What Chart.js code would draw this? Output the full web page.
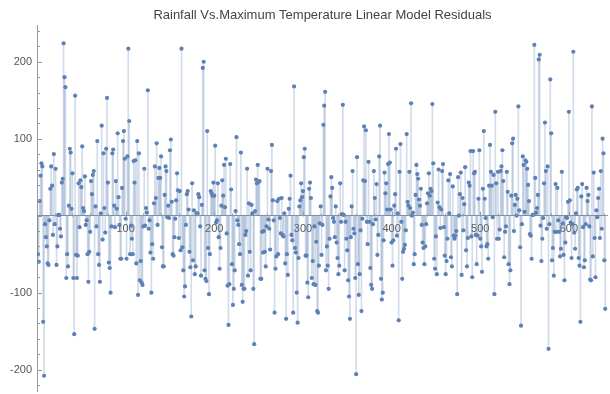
<!DOCTYPE html>
<html>
<head>
<meta charset="utf-8">
<script src="https://cdn.jsdelivr.net/npm/chart.js@4.4.1/dist/chart.umd.min.js"></script>
<style>
  html, body { margin: 0; padding: 0; background: #fff; }
  #wrap { width: 610px; height: 394px; }
</style>
</head>
<body>
<div id="wrap"><canvas id="residualChart"></canvas></div>
<script>
// ======================
// DATA
// ======================
const residuals = [
  -50,-60,19,52,68,64,-138,-208,-11,-28,-40,-62,-64,-6,35,64,39,-25,80,-11,61,-64,-40,1,1,-17,-27,43,48,224,180,167,-81,-50,-66,13,87,82,9,55,-81,-154,156,-51,-81,-52,42,-15,46,37,90,10,
  6,51,-12,-6,-50,-86,-47,-21,45,28,53,58,-147,12,-14,97,-50,-64,-86,3,117,-31,81,10,-22,87,153,43,-61,-68,-100,-14,81,86,13,-15,45,9,107,24,-12,-56,-56,36,97,110,74,-4,-56,77,217,123,-50,
  -13,-30,-50,71,43,72,-62,97,-103,81,-84,-59,-87,-90,-14,61,-13,10,4,163,-17,-6,-48,-100,-37,-56,16,64,23,94,-12,49,62,49,77,-41,-66,-66,27,64,58,-2,13,-3,85,99,18,-50,-52,-28,-4,20,55,33,
  -29,32,-45,217,-41,-71,-105,-92,-12,28,32,8,-47,-67,-131,42,-58,7,-76,-66,3,3,28,24,-14,-78,14,192,200,-71,-82,-85,110,-42,-102,-50,32,29,26,43,26,91,-9,-6,42,-28,-69,-42,13,46,26,66,11,74,
  -23,-91,-142,-89,67,34,-63,-116,-95,-71,6,102,-6,-12,-37,-50,82,-90,-112,-95,-95,-25,-20,61,-78,16,-47,-71,14,3,-95,-167,6,47,42,66,44,45,-82,-82,-21,-48,-20,-47,-66,-14,61,-5,-17,-44,58,92,20,-6,
  -126,-69,-53,19,-50,22,-3,-23,23,-25,-27,3,-62,-134,-50,-77,9,22,52,-25,-32,-126,168,-42,-48,-100,-139,-55,12,20,42,24,32,76,87,-52,-52,-87,-106,35,43,23,-81,-59,-89,-14,-90,-34,-124,-126,-65,-10,12,
  -51,-12,118,143,161,-71,-40,-65,-95,-30,25,50,36,-3,-8,-28,12,-35,-55,-76,-65,42,-8,2,144,1,-71,-8,-30,-45,-84,-105,-134,-28,12,58,-17,-23,-81,-206,76,-63,-103,-76,-19,-124,-4,46,116,45,111,-8,-37,70,
  -8,-68,-90,-95,-11,58,23,-5,41,-51,-25,77,117,-82,-109,-100,-32,56,29,42,8,67,106,69,8,-35,-65,-32,13,28,87,-26,3,-136,57,93,-8,-82,-47,-43,-38,-19,106,18,13,57,10,146,0,4,-63,-50,27,66,54,
  48,21,13,35,-12,-35,-42,-63,-40,-11,16,29,55,26,35,32,145,68,-56,-69,-27,-76,17,60,11,-16,8,58,67,-15,-52,-76,-59,-30,46,3,54,-54,-66,38,-26,-30,-26,-20,-102,50,0,28,56,-77,23,-19,15,63,
  -45,-66,-29,43,39,84,-27,-80,84,55,57,-25,-63,-26,22,85,-30,-40,-73,35,110,22,-3,-40,-37,-56,39,92,57,39,-2,53,-102,135,42,-30,57,-30,-18,58,64,85,45,-54,-21,-14,57,31,-63,-89,-71,26,94,100,
  -20,14,27,0,22,142,7,-41,-143,-11,77,66,5,72,70,61,40,19,-24,-26,-56,1,1,222,49,4,10,27,203,209,-13,-59,-30,-3,42,121,58,-17,64,-173,-11,177,107,-58,-42,-78,-21,41,-21,36,-6,-21,-53,-43,57,
  -10,-51,-84,-35,-2,-3,18,135,20,-9,-55,-11,213,-22,-43,3,34,36,-55,-65,-138,25,41,-15,-67,-58,-11,36,19,27,-14,-83,-84,142,-53,56,-29,-80,7,-2,23,35,-29,58,-17,100,81,-58,-121
];
const xTicks = [100, 200, 300, 400, 500, 600];
const yTicks = [-200, -100, 100, 200];

const points = residuals.map((v, i) => ({ x: i + 1, y: v }));

// ======================
// TICK MARKS (mathematica style, pointing inward)
// ======================
const tickMarks = {
  id: 'tickMarks',
  afterDraw(chart) {
    const { ctx, scales: { x, y } } = chart;
    const y0 = Math.round(y.getPixelForValue(0)) + 0.5;
    ctx.save();
    ctx.strokeStyle = '#999';
    ctx.lineWidth = 1;
    ctx.beginPath();
    for (let v = -220; v <= 240; v += 20) {
      const len = v % 100 === 0 ? 5 : 3;
      const py = Math.round(y.getPixelForValue(v)) + 0.5;
      ctx.moveTo(x.left, py); ctx.lineTo(x.left + len, py);
    }
    for (let v = 20; v <= 640; v += 20) {
      const len = v % 100 === 0 ? 5 : 3;
      const px = Math.round(x.getPixelForValue(v)) + 0.5;
      ctx.moveTo(px, y0); ctx.lineTo(px, y0 - len);
    }
    ctx.stroke();
    ctx.restore();
  }
};

// ======================
// CHART
// ======================
const ctx = document.getElementById('residualChart').getContext('2d');
new Chart(ctx, {
  type: 'bar',
  data: {
    datasets: [
      { type: 'scatter', data: points, order: 0,
        backgroundColor: '#5E81B5', pointRadius: 2.1, pointBorderWidth: 0, pointHoverRadius: 2.1 },
      { type: 'bar', data: points, order: 1,
        backgroundColor: 'rgba(94,129,181,0.28)', barThickness: 1, borderWidth: 0 }
    ]
  },
  options: {
    responsive: true,
    maintainAspectRatio: false,
    animation: false,
    layout: { padding: 0 },
    plugins: {
      legend: { display: false },
      tooltip: { enabled: false },
      title: {
        display: true,
        fullSize: false,
        text: 'Rainfall Vs.Maximum Temperature Linear Model Residuals',
        color: '#444',
        font: { family: 'Liberation Sans', size: 13, weight: 'normal' },
        padding: { top: 8, bottom: 2 }
      }
    },
    scales: {
      x: {
        type: 'linear',
        position: { y: 0 },
        min: 0, max: 644,
        offset: false,
        grid: { display: false, drawTicks: false },
        border: { color: '#999', width: 1 },
        afterBuildTicks: s => { s.ticks = xTicks.map(v => ({ value: v })); },
        ticks: { color: '#555', padding: 7, font: { family: 'Liberation Sans', size: 11 } }
      },
      y: {
        min: -229, max: 247,
        grid: { display: false, drawTicks: false },
        border: { color: '#999', width: 1 },
        afterFit: s => { s.width = 37; s.paddingTop = 0; s.paddingBottom = 0; },
        afterBuildTicks: s => { s.ticks = yTicks.map(v => ({ value: v })); },
        ticks: { color: '#555', padding: 5, font: { family: 'Liberation Sans', size: 11 } }
      }
    }
  },
  plugins: [tickMarks]
});
</script>
</body>
</html>
